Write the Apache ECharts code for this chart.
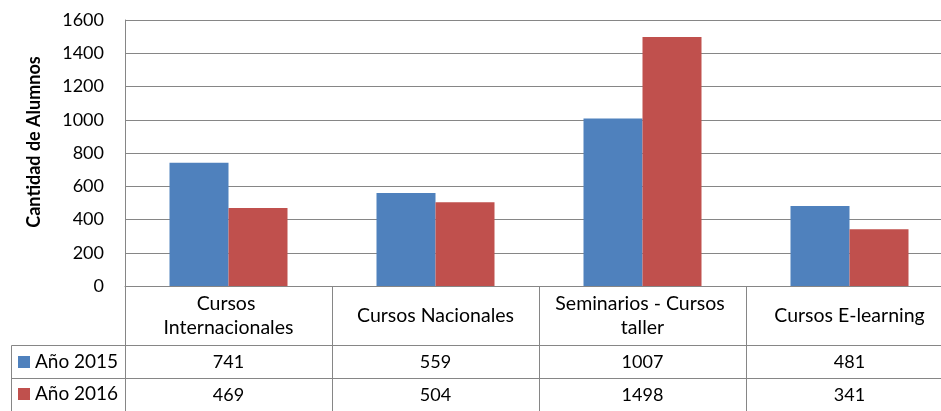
<!DOCTYPE html>
<html><head><meta charset="utf-8">
<script src="https://cdn.jsdelivr.net/npm/echarts@6/dist/echarts.min.js"></script>
<style>html,body{margin:0;padding:0;background:#fff;overflow:hidden;width:941px;height:411px}#c{width:953px;height:411px}</style>
</head><body><div id="c"></div>
<script>
const categories = ['Cursos Internacionales', 'Cursos Nacionales', 'Seminarios - Cursos taller', 'Cursos E-learning'];
const seriesNames = ['Año 2015', 'Año 2016'];
const values2015 = [741, 559, 1007, 481];
const values2016 = [469, 504, 1498, 341];
const yTicks = {min: 0, max: 1600, interval: 200};

const FONT = 'Lato';
const GRID = '#868686';
const chart = echarts.init(document.getElementById('c'), null, {renderer: 'canvas'});

function tableAxis(offset, rowVals, tickLen, labelMargin, fontSize) {
  return {
    type: 'category', position: 'bottom', offset: offset, gridIndex: 0,
    data: categories, boundaryGap: true,
    axisLine: {show: true, lineStyle: {color: GRID, width: 1}},
    axisTick: {show: true, interval: 0, length: tickLen, lineStyle: {color: GRID, width: 1}},
    axisLabel: {
      show: true, interval: 0, margin: labelMargin, verticalAlign: 'middle',
      fontFamily: FONT, fontSize: fontSize, color: '#000', lineHeight: 24,
      width: 190, overflow: 'break',
      formatter: rowVals ? function (v, i) { return String(rowVals[i]); } : undefined
    },
    splitLine: {show: false}
  };
}

const option = {
  animation: false,
  backgroundColor: '#fff',
  textStyle: {fontFamily: FONT},
  grid: {left: 125, top: 20, right: 0, bottom: 125, containLabel: false},
  legend: {
    orient: 'vertical', left: 18, top: 352, padding: 0,
    itemWidth: 12, itemHeight: 12, itemGap: 12, icon: 'rect',
    data: seriesNames,
    textStyle: {fontFamily: FONT, fontSize: 19, color: '#000', lineHeight: 20},
    selectedMode: false
  },
  xAxis: [
    tableAxis(0, null, 59, 30, 19.5),
    tableAxis(59, values2015, 33, 17, 18),
    tableAxis(92, values2016, 33, 17, 18)
  ],
  yAxis: {
    type: 'value', min: yTicks.min, max: yTicks.max, interval: yTicks.interval,
    name: 'Cantidad de Alumnos', nameLocation: 'middle', nameGap: 82, nameRotate: 90,
    nameTextStyle: {fontFamily: FONT, fontSize: 18, fontWeight: 'bold', color: '#000', padding: [0, 0, 0, 22]},
    axisLine: {show: true, lineStyle: {color: GRID}},
    axisTick: {show: false},
    axisLabel: {fontFamily: FONT, fontSize: 18, color: '#000', margin: 21,
      formatter: function (v) { return String(v); }},
    splitLine: {show: true, lineStyle: {color: GRID, width: 1}}
  },
  series: [
    {name: seriesNames[0], type: 'bar', data: values2015, itemStyle: {color: '#4F81BD'},
     barGap: '0%', barWidth: 59, xAxisIndex: 0},
    {name: seriesNames[1], type: 'bar', data: values2016, itemStyle: {color: '#C0504D'},
     barGap: '0%', barWidth: 59, xAxisIndex: 0}
  ],
  graphic: [
    {type: 'polyline', shape: {points: [[125, 345.5], [11.5, 345.5], [11.5, 411]]}, style: {stroke: GRID, lineWidth: 1, fill: null}},
    {type: 'line', shape: {x1: 11.5, y1: 378.5, x2: 125, y2: 378.5}, style: {stroke: GRID, lineWidth: 1}}
  ]
};
chart.setOption(option);
</script></body></html>
